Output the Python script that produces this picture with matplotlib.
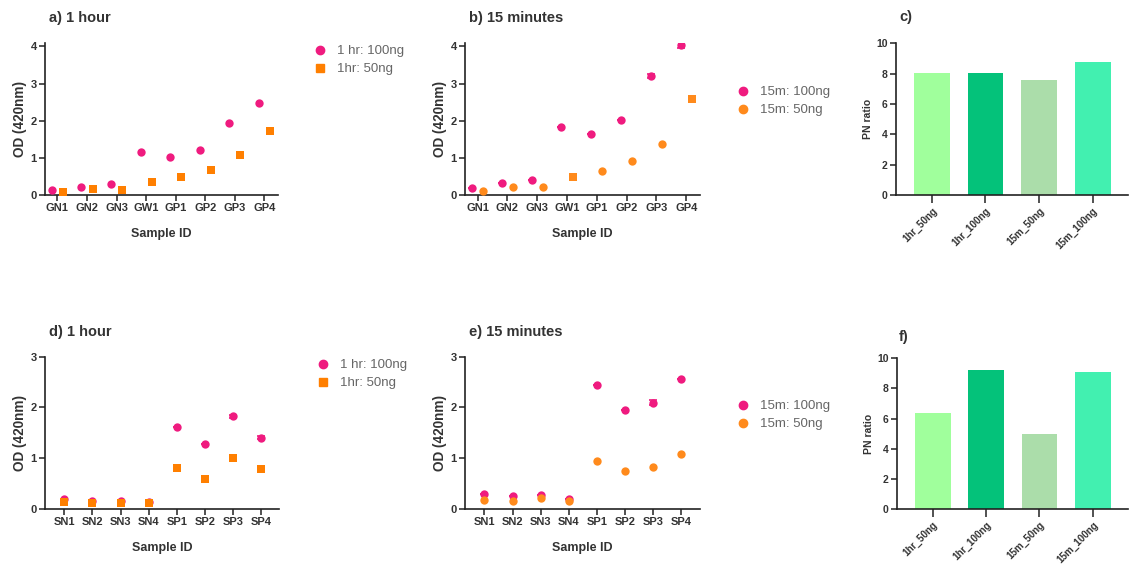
import matplotlib
matplotlib.use("Agg")
import matplotlib.pyplot as plt
from matplotlib.lines import Line2D
import numpy as np

plt.rcParams['font.family'] = ['Liberation Sans', 'DejaVu Sans']

# ---- data ----
g_samples = ["GN1", "GN2", "GN3", "GW1", "GP1", "GP2", "GP3", "GP4"]
s_samples = ["SN1", "SN2", "SN3", "SN4", "SP1", "SP2", "SP3", "SP4"]

a_100 = [0.14, 0.21, 0.30, 1.16, 1.02, 1.20, 1.93, 2.47]
a_50 = [0.09, 0.15, 0.14, 0.35, 0.49, 0.66, 1.07, 1.72]

b_100 = [0.19, 0.32, 0.40, 1.82, 1.63, 2.03, 3.21, 4.05]
b_100_err = [0, 0, 0, 0, 0, 0, 0.06, 0.08]
b_50 = [0.10, 0.22, 0.21, 0.49, 0.65, 0.91, 1.36, 2.58]

d_100 = [0.19, 0.16, 0.16, 0.145, 1.62, 1.28, 1.83, 1.40]
d_100_err = [0, 0, 0, 0, 0, 0, 0.03, 0.03]
d_50 = [0.13, 0.11, 0.12, 0.11, 0.81, 0.60, 1.00, 0.78]

e_100 = [0.29, 0.25, 0.27, 0.20, 2.44, 1.95, 2.09, 2.57]
e_100_err = [0, 0, 0, 0, 0, 0, 0.05, 0]
e_50 = [0.18, 0.15, 0.21, 0.16, 0.94, 0.755, 0.82, 1.09]

ratio_groups = ["1hr_50ng", "1hr_100ng", "15m_50ng", "15m_100ng"]
c_ratio = [8.05, 8.05, 7.6, 8.8]
f_ratio = [6.4, 9.2, 4.95, 9.1]

PINK = "#EF1B7F"
ORANGE_SQ = "#FF7F00"
ORANGE_CI = "#FF8A1C"
BAR_COLORS = ["#A0FF9C", "#04C27A", "#ABDDAA", "#42F0B0"]
TXT = "#333333"

W, H = 1135, 565
fig = plt.figure(figsize=(W / 100, H / 100), dpi=100)


def px_axes(left, top, right, bottom):
    return fig.add_axes([left / W, 1 - bottom / H, (right - left) / W, (bottom - top) / H])


def style(ax, tick_fs):
    for s in ["top", "right"]:
        ax.spines[s].set_visible(False)
    for s in ["left", "bottom"]:
        ax.spines[s].set_linewidth(1.2)
        ax.spines[s].set_color("#222222")
    ax.tick_params(direction="out", length=4, width=1.1, colors="#222222",
                   labelsize=tick_fs, labelcolor=TXT, pad=2)
    for lab in ax.get_xticklabels() + ax.get_yticklabels():
        lab.set_fontweight("bold")


def scatter_panel(ax, cats, y100, y50, ymax, xlim, off, err100=None,
                  sq50=None, mk50="s"):
    x = np.arange(len(cats))
    if err100 is not None:
        ax.errorbar(x - off, y100, yerr=err100, fmt="none", ecolor=PINK,
                    elinewidth=1.2, capsize=3, capthick=1.2, zorder=2)
    ax.scatter(x - off, y100, s=36, marker="o", color=PINK, linewidths=0, zorder=3)
    if sq50 is None:
        col = ORANGE_SQ if mk50 == "s" else ORANGE_CI
        ax.scatter(x + off, y50, s=32 if mk50 == "s" else 36, marker=mk50,
                   color=col, linewidths=0, zorder=3)
    else:
        for i, v in enumerate(y50):
            m = "s" if i in sq50 else "o"
            ax.scatter(x[i] + off, v, s=32 if m == "s" else 36, marker=m,
                       color=ORANGE_CI, linewidths=0, zorder=3)
    ax.set_xticks(x)
    ax.set_xticklabels(cats)
    ax.set_xlim(*xlim)
    ax.set_ylim(0, ymax)
    ax.set_yticks(range(0, int(ymax) + 1))
    ax.set_xlabel("Sample ID", fontsize=9, fontweight="bold", color=TXT)
    ax.xaxis.set_label_coords(0.5, -0.217)
    ax.set_ylabel("OD (420nm)", fontsize=9.8, fontweight="bold", color=TXT)
    ax.yaxis.set_label_coords(-0.077, 0.5)
    style(ax, 8)


def bar_panel(ax, vals):
    x = np.arange(len(vals))
    ax.bar(x, vals, width=0.67, color=BAR_COLORS, zorder=2)
    ax.set_xlim(-0.67, 3.66)
    ax.set_ylim(0, 10)
    ax.set_yticks(range(0, 11, 2))
    ax.set_xticks(x)
    ax.set_xticklabels(ratio_groups, rotation=45, ha="right", rotation_mode="anchor")
    ax.set_ylabel("PN ratio", fontsize=7.5, fontweight="bold", color=TXT)
    ax.yaxis.set_label_coords(-0.10, 0.5)
    style(ax, 7.5)
    ax.tick_params(axis="x", length=6, pad=2, labelsize=7.1)


def legend(x_left, y_top, labels, markers, colors):
    handles = [Line2D([], [], linestyle="none", marker=m, color=c,
                      markersize=6 if m == "o" else 5.6) for m, c in zip(markers, colors)]
    leg = fig.legend(handles, labels, loc="upper left",
                     bbox_to_anchor=(x_left / W, 1 - y_top / H), frameon=False,
                     fontsize=9.5, handlelength=1.0, handletextpad=0.85,
                     labelspacing=0.45, borderpad=0, borderaxespad=0)
    for t in leg.get_texts():
        t.set_color("#666666")


def title(x, y, s):
    fig.text(x / W, 1 - y / H, s, fontsize=10.5, fontweight="bold", color=TXT,
             ha="left", va="center")


# a) 1 hour
ax_a = px_axes(45, 42.7, 278, 195)
scatter_panel(ax_a, g_samples, a_100, a_50, 4.1, (-0.42, 7.46), 0.19)
title(49, 18, "a) 1 hour")
legend(313, 45, ["1 hr: 100ng", "1hr: 50ng"], ["o", "s"], [PINK, ORANGE_SQ])

# b) 15 minutes
ax_b = px_axes(465, 42.7, 700, 195)
scatter_panel(ax_b, g_samples, b_100, b_50, 4.1, (-0.42, 7.46), 0.19,
              err100=b_100_err, sq50=[3, 7])
title(469, 18, "b) 15 minutes")
legend(736, 86, ["15m: 100ng", "15m: 50ng"], ["o", "o"], [PINK, ORANGE_CI])

# c)
ax_c = px_axes(896, 43.3, 1128, 195)
bar_panel(ax_c, c_ratio)
title(899, 17, "c)")

# d) 1 hour
ax_d = px_axes(45, 356.7, 279, 509)
scatter_panel(ax_d, s_samples, d_100, d_50, 3, (-0.69, 7.64), 0.0,
              err100=d_100_err)
title(49, 332, "d) 1 hour")
legend(316, 359, ["1 hr: 100ng", "1hr: 50ng"], ["o", "s"], [PINK, ORANGE_SQ])

# e) 15 minutes
ax_e = px_axes(465, 356.7, 700, 509)
scatter_panel(ax_e, s_samples, e_100, e_50, 3, (-0.69, 7.67), 0.0,
              err100=e_100_err, mk50="o")
title(469, 332, "e) 15 minutes")
legend(736, 400, ["15m: 100ng", "15m: 50ng"], ["o", "o"], [PINK, ORANGE_CI])

# f)
ax_f = px_axes(897, 358.3, 1128, 509)
bar_panel(ax_f, f_ratio)
title(899, 337, "f)")

fig.savefig("out.png", dpi=100)
